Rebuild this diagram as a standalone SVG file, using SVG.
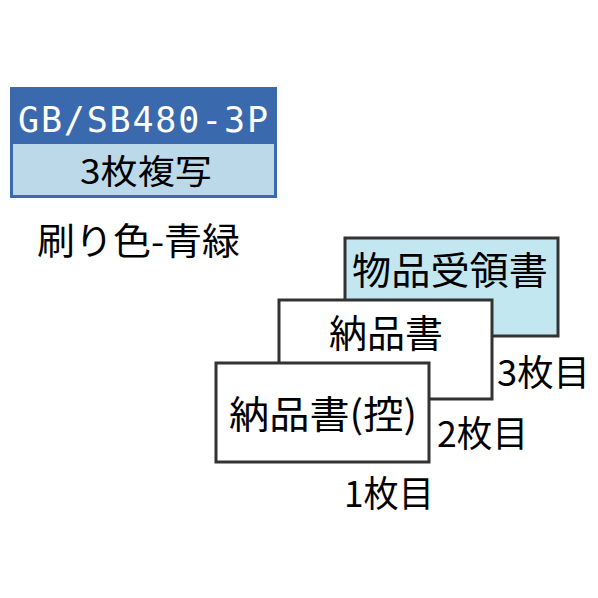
<svg xmlns="http://www.w3.org/2000/svg" width="598" height="598" viewBox="0 0 598 598">
<style>
.t{font-family:"Noto Sans CJK JP","Liberation Sans",sans-serif;fill:#000}
.card{stroke:#333;stroke-width:3}
</style>
<rect width="598" height="598" fill="#fff"/>
<g id="header">
<rect x="10" y="87" width="267" height="111" fill="#3a6aad"/>
<rect x="13" y="144" width="261" height="51" fill="#bcd9ea"/>
<text x="18" y="132" font-family="DejaVu Sans Mono,Liberation Mono,monospace" font-size="35" fill="#fff" textLength="250" lengthAdjust="spacing">GB/SB480-3P</text>
<text class="t" x="80" y="184" font-size="34" textLength="132" lengthAdjust="spacingAndGlyphs">3枚複写</text>
</g>
<g id="color-label">
<text class="t" x="37" y="255" font-size="37" textLength="203" lengthAdjust="spacingAndGlyphs">刷り色-青緑</text>
</g>
<g id="sheet3">
<rect class="card" x="345" y="238" width="213" height="98" fill="#c2e7f0"/>
<text class="t" x="352" y="284" font-size="38" textLength="196" lengthAdjust="spacingAndGlyphs">物品受領書</text>
<text class="t" x="497" y="386" font-size="36" textLength="93" lengthAdjust="spacingAndGlyphs">3枚目</text>
</g>
<g id="sheet2">
<rect class="card" x="279" y="300" width="213" height="99" fill="#fff"/>
<text class="t" x="329" y="347" font-size="38" textLength="114" lengthAdjust="spacingAndGlyphs">納品書</text>
<text class="t" x="437" y="447" font-size="36" textLength="91" lengthAdjust="spacingAndGlyphs">2枚目</text>
</g>
<g id="sheet1">
<rect class="card" x="216" y="363" width="213" height="99" fill="#fff"/>
<text class="t" x="229" y="428" font-size="38" textLength="188" lengthAdjust="spacingAndGlyphs">納品書(控)</text>
<text class="t" x="344" y="507" font-size="36" textLength="90" lengthAdjust="spacingAndGlyphs">1枚目</text>
</g>
<g id="connectors"></g>
</svg>
